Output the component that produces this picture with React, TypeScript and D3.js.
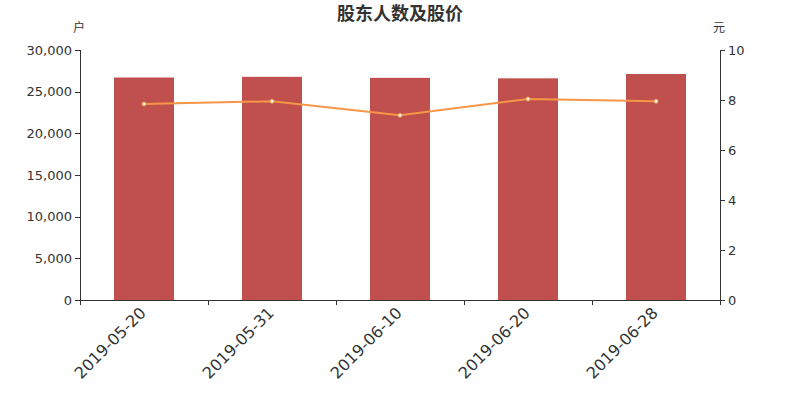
import React from "react";
import * as d3 from "d3";

const categories = ["2019-05-20", "2019-05-31", "2019-06-10", "2019-06-20", "2019-06-28"];
const holders = [26700, 26780, 26660, 26600, 27120];
const prices = [7.84, 7.95, 7.39, 8.04, 7.95];
const leftTicks = [0, 5000, 10000, 15000, 20000, 25000, 30000];
const rightTicks = [0, 2, 4, 6, 8, 10];

const W = 800, H = 400;
const M = { left: 80, right: 720, top: 50, bottom: 300 };
const FONT = "'DejaVu Sans', 'Noto Sans CJK SC', sans-serif";

export default function App() {
  const x = d3.scaleBand<string>().domain(categories).range([M.left, M.right]);
  const yL = d3.scaleLinear().domain([0, 30000]).range([M.bottom, M.top]);
  const yR = d3.scaleLinear().domain([0, 10]).range([M.bottom, M.top]);
  const barW = 60;
  const cx = (c: string) => (x(c) as number) + x.bandwidth() / 2;
  const line = d3.line<number>().x((_, i) => cx(categories[i])).y((d) => yR(d));
  const fmt = d3.format(",");
  const axisColor = "#333";
  const boundaries = [...categories.map((c) => x(c) as number), M.right];

  return (
    <svg width={W} height={H} style={{ position: "absolute", left: 0, top: 0, fontFamily: FONT }}>
      <rect width={W} height={H} fill="#fff" />
      <text x={400} y={20} textAnchor="middle" fontSize={18} fontWeight="bold" fill="#333">股东人数及股价</text>
      <text x={79} y={32} textAnchor="middle" fontSize={12} fill="#333">户</text>
      <text x={719} y={32} textAnchor="middle" fontSize={12} fill="#333">元</text>

      {categories.map((c, i) => (
        <rect key={c} x={cx(c) - barW / 2} y={yL(holders[i])} width={barW} height={M.bottom - yL(holders[i])} fill="#c0504d" />
      ))}

      {/* left axis */}
      <line x1={M.left + 0.5} x2={M.left + 0.5} y1={M.top} y2={M.bottom} stroke={axisColor} />
      {leftTicks.map((t) => (
        <g key={t}>
          <line x1={M.left - 5} x2={M.left} y1={Math.round(yL(t)) + 0.5} y2={Math.round(yL(t)) + 0.5} stroke={axisColor} />
          <text x={M.left - 8} y={yL(t)} dy="0.35em" textAnchor="end" fontSize={13} fill="#333">{fmt(t)}</text>
        </g>
      ))}

      {/* right axis */}
      <line x1={M.right + 0.5} x2={M.right + 0.5} y1={M.top} y2={M.bottom} stroke={axisColor} />
      {rightTicks.map((t) => (
        <g key={t}>
          <line x1={M.right} x2={M.right + 5} y1={Math.round(yR(t)) + 0.5} y2={Math.round(yR(t)) + 0.5} stroke={axisColor} />
          <text x={M.right + 8} y={yR(t)} dy="0.35em" textAnchor="start" fontSize={13} fill="#333">{t}</text>
        </g>
      ))}

      {/* bottom axis */}
      <line x1={M.left} x2={M.right + 1} y1={M.bottom + 0.5} y2={M.bottom + 0.5} stroke={axisColor} />
      {boundaries.map((b, i) => (
        <line key={i} x1={b + 0.5} x2={b + 0.5} y1={M.bottom} y2={M.bottom + 5} stroke={axisColor} />
      ))}
      {categories.map((c) => (
        <text key={c} transform={`translate(${cx(c) - 1},${M.bottom + 10}) rotate(-45)`} textAnchor="end" dy="0.35em" fontSize={16} fill="#333">{c}</text>
      ))}

      <path d={line(prices) as string} fill="none" stroke="#f79646" strokeWidth={2} />
      {prices.map((p, i) => (
        <circle key={i} cx={cx(categories[i])} cy={yR(p)} r={2} fill="#fff" stroke="#f79646" strokeWidth={1} />
      ))}
    </svg>
  );
}
